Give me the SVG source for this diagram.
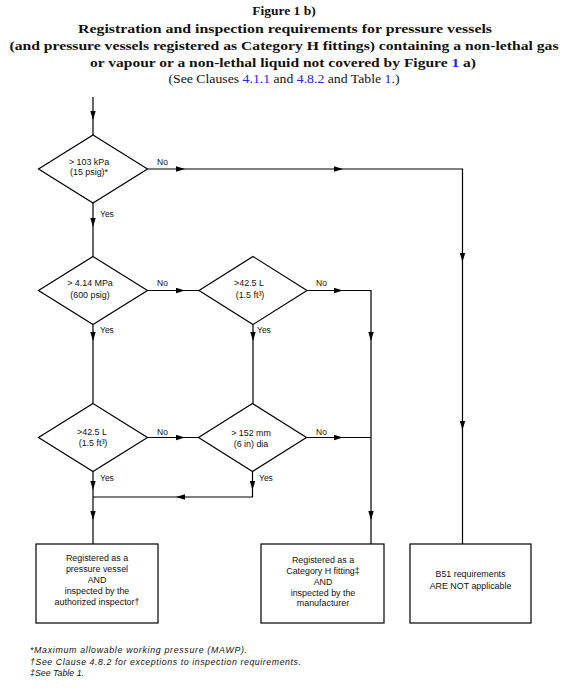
<svg xmlns="http://www.w3.org/2000/svg" width="568" height="698" viewBox="0 0 568 698">
<style>
.t{font-family:"Liberation Serif","Times New Roman",serif;font-weight:bold;font-size:13.5px;fill:#111;text-anchor:middle}
.s{font-family:"Liberation Serif","Times New Roman",serif;font-size:11.5px;fill:#111;text-anchor:middle}
.lk{fill:#2424d8}
.n{font-family:"Liberation Sans",Arial,sans-serif;font-size:8.9px;fill:#111;text-anchor:middle}
.lb{font-family:"Liberation Sans",Arial,sans-serif;font-size:8.5px;fill:#111}
.fn{font-family:"Liberation Sans",Arial,sans-serif;font-size:8.8px;font-style:italic;fill:#111}
.shape{fill:#fff;stroke:#000;stroke-width:1.2}
.c{fill:none;stroke:#000;stroke-width:1.2}
.a{fill:none;stroke:none;marker-end:url(#ah)}
</style>
<defs>
<marker id="ah" viewBox="0 0 10 6" refX="10" refY="3" markerWidth="9" markerHeight="6" markerUnits="userSpaceOnUse" orient="auto">
<path d="M0,0 L10,3 L0,6 z" fill="#000"/>
</marker>
</defs>
<g id="title">
<text class="t" x="284" y="15">Figure 1 b)</text>
<text class="t" x="285" y="33" textLength="414" lengthAdjust="spacingAndGlyphs">Registration and inspection requirements for pressure vessels</text>
<text class="t" x="284" y="50" textLength="549" lengthAdjust="spacingAndGlyphs">(and pressure vessels registered as Category H fittings) containing a non-lethal gas</text>
<text class="t" x="283" y="67" textLength="386" lengthAdjust="spacingAndGlyphs">or vapour or a non-lethal liquid not covered by Figure <tspan class="lk">1</tspan> a)</text>
<text class="s" x="284" y="83" textLength="231" lengthAdjust="spacingAndGlyphs">(See Clauses <tspan class="lk">4.1.1</tspan> and <tspan class="lk">4.8.2</tspan> and Table <tspan class="lk">1</tspan>.)</text>
</g>
<g id="connectors">
<path class="c" d="M93,97 V135"/>
<path class="c" d="M147.5,169 H462.5 V544"/>
<path class="c" d="M93,203 V256.5"/>
<path class="c" d="M147.5,290.5 H199"/>
<path class="c" d="M307,290.5 H371 V544"/>
<path class="c" d="M93,324.5 V403.5"/>
<path class="c" d="M253,324.5 V403.5"/>
<path class="c" d="M147.5,437.5 H198.5"/>
<path class="c" d="M306.5,437.5 H371"/>
<path class="c" d="M93,471.5 V544"/>
<path class="c" d="M252.5,471.5 V497 H93"/>
<path class="a" d="M93,110 V120"/>
<path class="a" d="M175,169 H185"/>
<path class="a" d="M333,169 H343"/>
<path class="a" d="M462.5,252 V262"/>
<path class="a" d="M462.5,420 V430"/>
<path class="a" d="M93,217 V227"/>
<path class="a" d="M175,290.5 H185"/>
<path class="a" d="M333,290.5 H343"/>
<path class="a" d="M371,331 V341"/>
<path class="a" d="M371,510 V520"/>
<path class="a" d="M93,331 V341"/>
<path class="a" d="M253,331 V341"/>
<path class="a" d="M175,437.5 H185"/>
<path class="a" d="M333,437.5 H343"/>
<path class="a" d="M93,480 V490"/>
<path class="a" d="M93,510 V520"/>
<path class="a" d="M252.5,480 V490"/>
<path class="a" d="M186,497 H176"/>
<text class="lb" x="157" y="165">No</text>
<text class="lb" x="100" y="217">Yes</text>
<text class="lb" x="157" y="286">No</text>
<text class="lb" x="316" y="286">No</text>
<text class="lb" x="100" y="333">Yes</text>
<text class="lb" x="257" y="333">Yes</text>
<text class="lb" x="157" y="435">No</text>
<text class="lb" x="316" y="435">No</text>
<text class="lb" x="100" y="481">Yes</text>
<text class="lb" x="259" y="481">Yes</text>
</g>
<g id="d1">
<polygon class="shape" points="93,135 147.5,169 93,203 38.5,169"/>
<text class="n" x="89" y="164.5">&gt; 103 kPa</text>
<text class="n" x="89" y="175">(15 psig)*</text>
</g>
<g id="d2">
<polygon class="shape" points="93,256.5 147.5,290.5 93,324.5 38.5,290.5"/>
<text class="n" x="90" y="286">&gt; 4.14 MPa</text>
<text class="n" x="90" y="298">(600 psig)</text>
</g>
<g id="d3">
<polygon class="shape" points="253,256.5 307,290.5 253,324.5 199,290.5"/>
<text class="n" x="249" y="286">&gt;42.5 L</text>
<text class="n" x="250" y="298">(1.5 ft³)</text>
</g>
<g id="d4">
<polygon class="shape" points="93,403.5 147.5,437.5 93,471.5 38.5,437.5"/>
<text class="n" x="92" y="435">&gt;42.5 L</text>
<text class="n" x="93" y="446">(1.5 ft³)</text>
</g>
<g id="d5">
<polygon class="shape" points="252.5,403.5 306.5,437.5 252.5,471.5 198.5,437.5"/>
<text class="n" x="251" y="435.5">&gt; 152 mm</text>
<text class="n" x="251" y="447">(6 in) dia</text>
</g>
<g id="box1">
<rect class="shape" x="36" y="544" width="122" height="79"/>
<text class="n" x="97" y="561">Registered as a</text>
<text class="n" x="97" y="572">pressure vessel</text>
<text class="n" x="97" y="583">AND</text>
<text class="n" x="97" y="594">inspected by the</text>
<text class="n" x="97" y="605">authorized inspector†</text>
</g>
<g id="box2">
<rect class="shape" x="261" y="544" width="123" height="79"/>
<text class="n" x="323" y="563">Registered as a</text>
<text class="n" x="323" y="574">Category H fitting‡</text>
<text class="n" x="323" y="585">AND</text>
<text class="n" x="323" y="596">inspected by the</text>
<text class="n" x="323" y="606">manufacturer</text>
</g>
<g id="box3">
<rect class="shape" x="410" y="544" width="121" height="79"/>
<text class="n" x="470.5" y="577">B51 requirements</text>
<text class="n" x="470.5" y="589">ARE NOT applicable</text>
</g>
<g id="footnotes">
<text class="fn" x="30" y="653" textLength="217" lengthAdjust="spacing">*Maximum allowable working pressure (MAWP).</text>
<text class="fn" x="30" y="664.5" textLength="271" lengthAdjust="spacing">†See Clause 4.8.2 for exceptions to inspection requirements.</text>
<text class="fn" x="30" y="676">‡See Table 1.</text>
</g>
</svg>
